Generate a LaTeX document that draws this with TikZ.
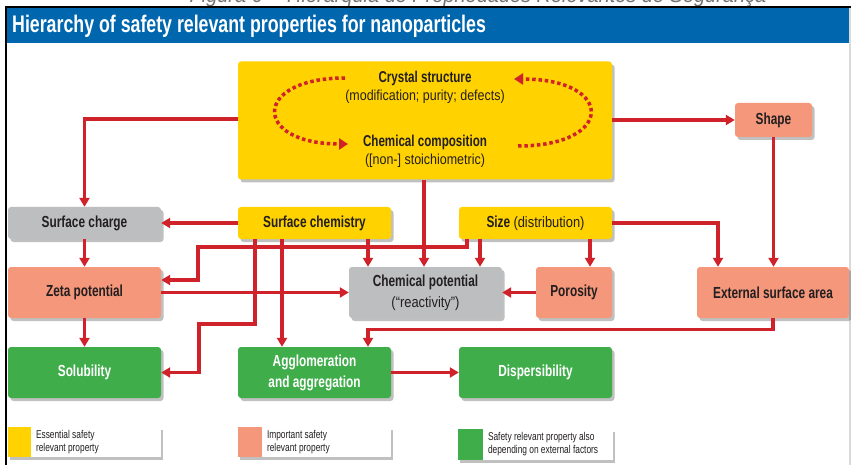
\documentclass[tikz,border=0pt]{standalone}
\usepackage{fontspec}
\setmainfont{Liberation Sans}[FakeStretch=0.74]
\newfontfamily\regfont{Liberation Sans}[FakeStretch=0.86]
\newfontfamily\capfont{Liberation Sans}[FakeStretch=0.95]
\usetikzlibrary{arrows.meta,shadows,calc}
\definecolor{ybox}{HTML}{FFD200}
\definecolor{sbox}{HTML}{F4977A}
\definecolor{gbox}{HTML}{BDBEC0}
\definecolor{grbox}{HTML}{40AD4B}
\definecolor{redl}{HTML}{D0222B}
\definecolor{titleblue}{HTML}{0067AF}
\definecolor{txt}{HTML}{231F20}
\tikzset{
  box/.style={rounded corners=3pt, inner sep=0pt, align=center, text=txt,
    font=\fontsize{16}{18}\selectfont\bfseries,
    drop shadow={shadow xshift=2.5pt, shadow yshift=-3pt, opacity=0.35, fill=black!70}},
  ybx/.style={box, fill=ybox},
  sbx/.style={box, fill=sbox},
  gbx/.style={box, fill=gbox},
  grbx/.style={box, fill=grbox, text=white},
  conn/.style={draw=redl, line width=3.2pt, -{Triangle[length=9pt,width=10pt]}},
  dots/.style={draw=redl, line width=3.5pt, dash pattern=on 3.5pt off 2.8pt, -{Triangle[length=9pt,width=11pt]}},
  legbox/.style={fill=white, inner sep=0pt, text=txt,
    drop shadow={shadow xshift=2pt, shadow yshift=-2.5pt, opacity=0.35, fill=black!70}},
  legtxt/.style={anchor=west, align=left, text=txt, inner sep=0pt, font=\fontsize{11.3}{13}\selectfont}
}
\begin{document}
\begin{tikzpicture}[x=1pt,y=-1pt]
\useasboundingbox (0,0) rectangle (851,465);
\fill[white] (0,0) rectangle (851,465);
% caption cut at the top, as in the reference
\begin{scope}
\clip (0,0) rectangle (851,6.5);
\node[anchor=base, text=black!55, font=\capfont\itshape\fontsize{21}{23}\selectfont, inner sep=0pt] (cap) at (478,2.5) {Figura 6 -- Hierarquia de Propriedades Relevantes de Segurança};
\end{scope}
% frame and title bar
\fill[black!15] (849,8) rectangle (851,465);
\fill[titleblue] (6,8) rectangle (849,43.5);
\draw[black, line width=1.6pt] (6,465) -- (6,7) -- (851,7);
\node[anchor=west, text=white, font=\fontsize{24}{26}\selectfont\bfseries, inner sep=0pt] (title) at (12,26) {Hierarchy of safety relevant properties for nanoparticles};

% nodes
\node[ybx, minimum width=374pt, minimum height=118pt] (cs) at (425,120.5) {};
\node[text=txt, inner sep=0pt, align=center] (cstext) at (425,87) {\fontsize{15.7}{17}\selectfont\bfseries Crystal structure\\[3pt]\regfont\mdseries\fontsize{14.5}{16}\selectfont (modification; purity; defects)};
\node[text=txt, inner sep=0pt, align=center] (cctext) at (425,151) {\fontsize{15.7}{17}\selectfont\bfseries Chemical composition\\[3pt]\regfont\mdseries\fontsize{14.5}{16}\selectfont ([non-] stoichiometric)};
\node[sbx, minimum width=77pt, minimum height=34pt] (shape) at (773.5,120) {Shape};
\node[gbx, minimum width=153pt, minimum height=32pt] (sc) at (84.5,223) {Surface charge};
\node[ybx, minimum width=153pt, minimum height=32pt] (sch) at (314.5,223) {Surface chemistry};
\node[ybx, minimum width=153pt, minimum height=32pt] (size) at (535.5,223) {Size {\regfont\mdseries\fontsize{15}{17}\selectfont(distribution)}};
\node[sbx, minimum width=153pt, minimum height=51pt] (zeta) at (84.5,292.5) {Zeta potential};
\node[gbx, minimum width=153pt, minimum height=51pt] (cp) at (425.5,292.5) {Chemical potential\\[3pt]{\regfont\mdseries\fontsize{15}{17}\selectfont(“reactivity”)}};
\node[sbx, minimum width=76pt, minimum height=51pt] (por) at (574,292.5) {Porosity};
\node[sbx, minimum width=152pt, minimum height=51pt] (ext) at (773,292.5) {External surface area};
\node[grbx, minimum width=153pt, minimum height=51pt] (sol) at (84.5,372.5) {Solubility};
\node[grbx, minimum width=153pt, minimum height=51pt] (agg) at (314.5,372.5) {Agglomeration\\[3pt]and aggregation};
\node[grbx, minimum width=153pt, minimum height=51pt] (disp) at (535.5,372.5) {Dispersibility};

% dotted cycle inside crystal box
\draw[dots] (345,78) .. controls (252,78) and (252,144) .. (348,144);
\draw[dots] (518,146) .. controls (615,146) and (615,79) .. (514,79);

% connectors
\coordinate (p1) at ([xshift=53.5pt]sch.south);
\coordinate (p2) at ([xshift=-55.5pt]size.south);
\coordinate (p3) at ([xshift=54.5pt]size.south);
\coordinate (p4) at ([xshift=-68.5pt]size.south);
\coordinate (p5) at ([xshift=-59.5pt]sch.south);
\coordinate (p6) at ([xshift=-32.5pt]sch.south);
\coordinate (ea) at ([xshift=-55pt]ext.north);
\coordinate (aa) at ([xshift=53.5pt]agg.north);
\coordinate (za) at ([yshift=12.5pt]zeta.east);

\draw[conn] (cs.east |- shape.west) -- (shape.west);
\draw[conn] (cs.west |- 0,119) -| (sc.north);
\draw[conn] (shape.south) -- (shape.south |- ext.north);
\draw[conn] (sch.west) -- (sc.east);
\draw[conn] (sc.south) -- (zeta.north);
\draw[conn] (cs.south -| 424,0) -- (cp.north -| 424,0);
\draw[conn] (p1) -- (p1 |- cp.north);
\draw[conn] (p2) -- (p2 |- cp.north);
\draw[conn] (p3) -- (p3 |- por.north);
\draw[conn] (size.east) -| (ea);
\draw[conn] (por.west) -- (cp.east);
\draw[conn] (zeta.east) -- (cp.west);
\draw[conn] (p4) -- (p4 |- 0,247) -| (198,280) -- (za);
\draw[conn] (p5) -- (p5 |- 0,324) -| (199,372.5) -- (sol.east);
\draw[conn] (p6) -- (p6 |- agg.north);
\draw[conn] (ext.south) -- ++(0,11) -| (aa);
\draw[conn] (zeta.south) -- (sol.north);
\draw[conn] (agg.east) -- (disp.west);

% legend
\node[legbox, minimum width=153pt, minimum height=30pt] (l1) at (84.5,442) {};
\fill[ybox] (l1.north west) rectangle ([xshift=23pt]l1.south west);
\node[legtxt] (l1t) at ([xshift=28pt]l1.west) {Essential safety\\relevant property};
\node[legbox, minimum width=153pt, minimum height=30pt] (l2) at (314.5,442) {};
\fill[sbox] (l2.north west) rectangle ([xshift=24pt]l2.south west);
\node[legtxt] (l2t) at ([xshift=29pt]l2.west) {Important safety\\relevant property};
\node[legbox, minimum width=155pt, minimum height=31pt] (l3) at (535.5,444.5) {};
\fill[grbox] (l3.north west) rectangle ([xshift=25pt]l3.south west);
\node[legtxt] (l3t) at ([xshift=30pt]l3.west) {Safety relevant property also\\depending on external factors};
\end{tikzpicture}
\end{document}
